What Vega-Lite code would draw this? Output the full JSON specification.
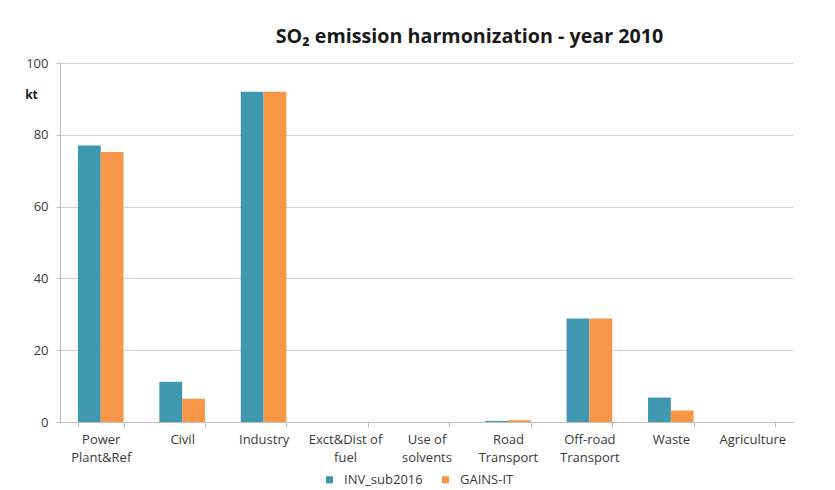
{
  "$schema": "https://vega.github.io/schema/vega-lite/v6.json",
  "width": 733,
  "height": 359,
  "autosize": "none",
  "padding": {"left": 60, "top": 63, "right": 42, "bottom": 68},
  "background": "white",
  "title": {
    "text": "SO₂ emission harmonization - year 2010",
    "font": "Open Sans",
    "fontSize": 19.7,
    "fontWeight": "bold",
    "color": "#1a1a1a",
    "anchor": "middle",
    "dx": 43,
    "offset": 10
  },
  "data": {
    "values": [
      {"category": "Power Plant&Ref", "series": "INV_sub2016", "value": 77.0},
      {"category": "Power Plant&Ref", "series": "GAINS-IT", "value": 75.2},
      {"category": "Civil", "series": "INV_sub2016", "value": 11.2},
      {"category": "Civil", "series": "GAINS-IT", "value": 6.5},
      {"category": "Industry", "series": "INV_sub2016", "value": 92.0},
      {"category": "Industry", "series": "GAINS-IT", "value": 92.0},
      {"category": "Exct&Dist of fuel", "series": "INV_sub2016", "value": 0.0},
      {"category": "Exct&Dist of fuel", "series": "GAINS-IT", "value": 0.0},
      {"category": "Use of solvents", "series": "INV_sub2016", "value": 0.0},
      {"category": "Use of solvents", "series": "GAINS-IT", "value": 0.0},
      {"category": "Road Transport", "series": "INV_sub2016", "value": 0.3},
      {"category": "Road Transport", "series": "GAINS-IT", "value": 0.5},
      {"category": "Off-road Transport", "series": "INV_sub2016", "value": 28.8},
      {"category": "Off-road Transport", "series": "GAINS-IT", "value": 28.8},
      {"category": "Waste", "series": "INV_sub2016", "value": 6.8},
      {"category": "Waste", "series": "GAINS-IT", "value": 3.2},
      {"category": "Agriculture", "series": "INV_sub2016", "value": 0.0},
      {"category": "Agriculture", "series": "GAINS-IT", "value": 0.0}
    ]
  },
  "mark": {"type": "bar"},
  "encoding": {
    "x": {
      "field": "category",
      "type": "nominal",
      "sort": null,
      "scale": {"paddingInner": 0.44, "paddingOuter": 0.22},
      "axis": {
        "title": null,
        "labelAngle": 0,
        "labelFont": "Open Sans",
        "labelFontSize": 13,
        "labelColor": "#3a3a3a",
        "labelPadding": 6,
        "labelLineHeight": 18,
        "labelBaseline": "top",
        "labelLimit": 200,
        "tickBand": "extent",
        "tickColor": "#bfbfbf",
        "tickSize": 5,
        "domainColor": "#bfbfbf",
        "labelExpr": "datum.value == 'Power Plant&Ref' ? ['Power','Plant&Ref'] : datum.value == 'Exct&Dist of fuel' ? ['Exct&Dist of','fuel'] : datum.value == 'Use of solvents' ? ['Use of','solvents'] : datum.value == 'Road Transport' ? ['Road','Transport'] : datum.value == 'Off-road Transport' ? ['Off-road','Transport'] : datum.value"
      }
    },
    "xOffset": {"field": "series", "type": "nominal", "sort": ["INV_sub2016", "GAINS-IT"]},
    "y": {
      "field": "value",
      "type": "quantitative",
      "scale": {"domain": [0, 100], "nice": false},
      "axis": {
        "values": [0, 20, 40, 60, 80, 100],
        "title": "kt",
        "titleAngle": 0,
        "titleX": -29,
        "titleY": 31,
        "titleAlign": "center",
        "titleBaseline": "middle",
        "titleFont": "Open Sans",
        "titleFontSize": 12,
        "titleFontWeight": "bold",
        "titleColor": "#1a1a1a",
        "labelFont": "Open Sans",
        "labelFontSize": 13,
        "labelColor": "#3a3a3a",
        "labelPadding": 8,
        "tickSize": 4,
        "tickColor": "#bfbfbf",
        "domainColor": "#bfbfbf",
        "gridColor": "#d0d0d0",
        "grid": true
      }
    },
    "color": {
      "field": "series",
      "type": "nominal",
      "sort": ["INV_sub2016", "GAINS-IT"],
      "scale": {"domain": ["INV_sub2016", "GAINS-IT"], "range": ["#3f97b0", "#f79646"]},
      "legend": {
        "title": null,
        "orient": "none",
        "direction": "horizontal",
        "legendX": 263,
        "legendY": 410,
        "symbolType": "square",
        "symbolSize": 50,
        "symbolStrokeWidth": 0,
        "labelFont": "Open Sans",
        "labelFontSize": 13,
        "labelColor": "#3a3a3a",
        "labelOffset": 8,
        "columnPadding": 16
      }
    }
  },
  "config": {
    "view": {"stroke": null}
  }
}
